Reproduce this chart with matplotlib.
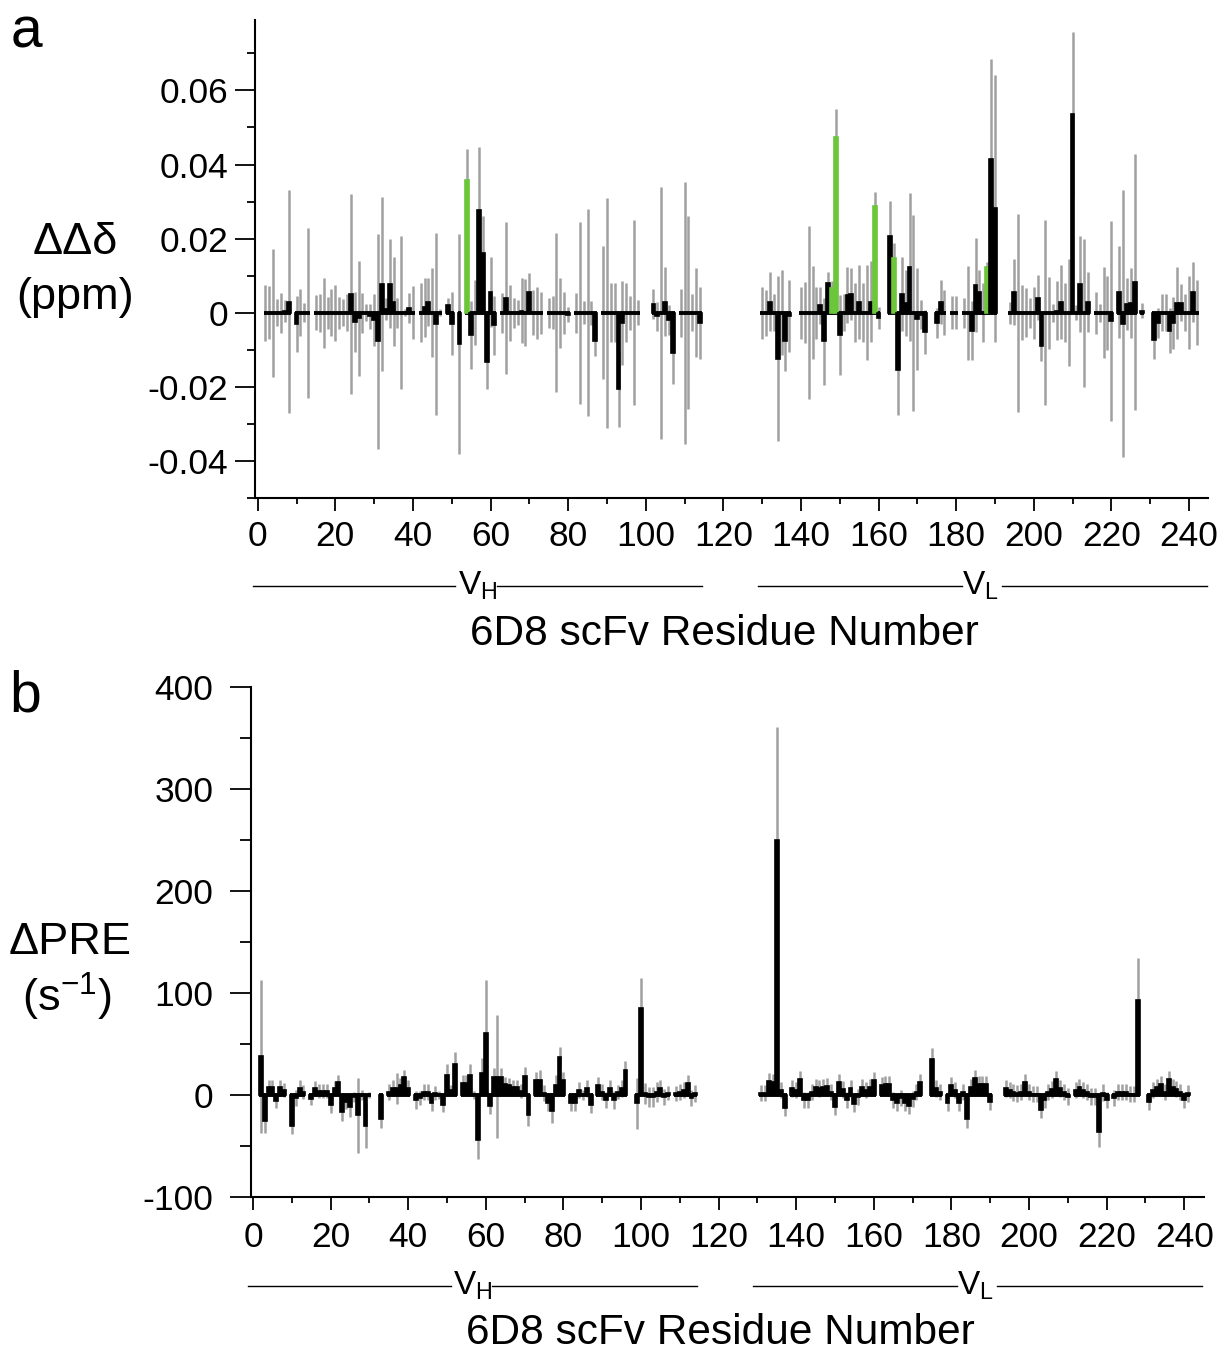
import numpy as np
import matplotlib
matplotlib.use('Agg')
import matplotlib.pyplot as plt
import matplotlib.transforms as mtransforms
from matplotlib.ticker import FixedLocator

plt.rcParams['font.family'] = ['Liberation Sans', 'DejaVu Sans']
plt.rcParams['mathtext.fontset'] = 'custom'
plt.rcParams['mathtext.rm'] = 'Liberation Sans'
plt.rcParams['mathtext.it'] = 'Liberation Sans:italic'
plt.rcParams['axes.unicode_minus'] = False

# ---------------- Panel a : chemical shift perturbation ----------------
res_a = [2, 3, 4, 5, 6, 7, 8, 10, 11, 12, 13, 15, 16, 17, 18, 19, 20, 21, 22, 23,
         24, 25, 26, 27, 28, 29, 30, 31, 32, 33, 34, 35, 36, 37, 38, 39, 40, 42, 43, 44,
         45, 46, 47, 49, 50, 52, 54, 55, 56, 57, 58, 59, 60, 61, 63, 64, 65, 66, 67, 68,
         69, 70, 71, 72, 73, 75, 76, 77, 78, 79, 80, 82, 83, 84, 85, 86, 87, 89, 90, 91,
         92, 93, 94, 95, 96, 97, 98, 102, 103, 104, 105, 106, 107, 109, 110, 111, 112, 113, 114,
         130, 131, 132, 133, 134, 135, 136, 137, 140, 141, 142, 143, 144, 145, 146, 147, 148, 149,
         150, 151, 152, 153, 154, 155, 156, 157, 158, 159, 160, 163, 164, 165, 166, 167, 168,
         169, 170, 171, 172, 175, 176, 177, 179, 180, 182, 183, 184, 185, 186, 187, 188, 189,
         190, 194, 195, 196, 197, 198, 199, 200, 201, 202, 203, 204, 205, 206, 207, 208, 209,
         210, 211, 212, 213, 214, 216, 217, 218, 219, 220, 222, 223, 224, 225, 226, 228, 231,
         232, 233, 234, 235, 236, 237, 238, 239, 240, 241, 242]
ddelta = [0, 0, 0, 0, 0, 0.0005, 0.003, -0.003, 0, 0, 0, 0, 0, 0, 0, 0, 0, 0, 0, 0,
          0.005, -0.0025, -0.0015, 0, 0, -0.001, -0.002, -0.0077, 0.0078, 0.001, 0.0078, 0.003, 0, 0, 0, 0.0013, 0, 0, 0.0015, 0.003,
          0, -0.003, 0, 0.002, -0.003, -0.0085, 0.0358, -0.006, 0, 0.0278, 0.016, -0.0133, 0.0056, -0.0034, 0, 0.004, 0, 0, 0, 0.0006,
          0, 0.0056, 0, 0, 0, 0, 0, 0, 0, 0, -0.0005, 0, 0, 0, 0, 0, -0.0076, 0, 0, 0,
          0, -0.0205, -0.0028, 0, 0, 0, 0, 0.0024, -0.001, 0, 0.003, -0.002, -0.0108, 0, 0, 0, 0, 0, -0.0028,
          0, 0, 0.003, 0, -0.0124, 0, -0.0077, -0.001, 0, 0, 0, 0, 0, 0.002, -0.0077, 0.008, 0.0066, 0.0473,
          -0.0059, 0, 0.0047, 0.005, 0, 0.003, 0, 0, 0.003, 0.0287, -0.0015, 0.0208, 0.0147, -0.0155, 0.005, 0.0026, 0.0123,
          0, -0.0016, -0.0005, -0.0052, -0.0027, 0.0029, 0, 0, 0, 0, 0, -0.0048, 0.0076, 0.0056, 0, 0.0123, 0.0416,
          0.0282, 0, 0.0056, 0, 0, 0, 0, 0, 0.0041, -0.009, 0, 0, 0, 0.0006, 0.0029, 0, 0,
          0.0535, 0, 0.0078, 0, 0.0029, 0, 0, 0, 0, -0.0023, 0.0056, -0.003, 0.0024, 0.0027, 0.0083, 0.0005, -0.0074,
          -0.0027, 0, 0, -0.0048, -0.0027, 0.0027, 0.0027, 0, 0, 0.0056, 0]
ddelta_err = [0.0076, 0.0072, 0.0173, 0.0036, 0.0054, 0.003, 0.030, 0.0075, 0.0063, 0.0026, 0.023, 0.0047, 0.0051, 0.0095, 0.0043, 0.0063, 0.0076, 0.0043, 0.0036, 0.005,
              0.027, 0.008, 0.0155, 0.0054, 0.0023, 0.0034, 0.007, 0.029, 0.0235, 0.003, 0.012, 0.012, 0.004, 0.0206, 0.001, 0.004, 0.0072, 0.008, 0.008, 0.0065,
              0.012, 0.0245, 0.001, 0.002, 0.0085, 0.0297, 0.0085, 0.0093, 0.0087, 0.017, 0.010, 0.0072, 0.0095, 0.008, 0.0054, 0.0206, 0.0076, 0.004, 0.0034, 0.0088,
              0.009, 0.005, 0.006, 0.007, 0.0057, 0.004, 0.0044, 0.0215, 0.0094, 0.0057, 0.002, 0.0054, 0.0245, 0.0031, 0.028, 0.0033, 0.004, 0.018, 0.031, 0.008,
              0.008, 0.0103, 0.0113, 0.008, 0.0046, 0.025, 0.0034, 0.004, 0.004, 0.034, 0.0094, 0.004, 0.0085, 0.0065, 0.0354, 0.026, 0.005, 0.012, 0.0097,
              0.007, 0.0062, 0.008, 0.005, 0.0223, 0.0115, 0.008, 0.0097, 0.007, 0.0083, 0.0234, 0.0125, 0.007, 0.005, 0.0118, 0.003, 0.002, 0.0078,
              0.0108, 0.005, 0.0076, 0.007, 0.008, 0.010, 0.008, 0.0128, 0.011, 0.0038, 0.003, 0.0094, 0.004, 0.012, 0.010, 0.009, 0.020,
              0.0265, 0.0138, 0.004, 0.006, 0.004, 0.006, 0.006, 0.0044, 0.0044, 0.004, 0.0127, 0.008, 0.0127, 0.006, 0.008, 0.0014, 0.027,
              0.036, 0.003, 0.009, 0.0267, 0.0074, 0.0066, 0.004, 0.007, 0.006, 0.004, 0.025, 0.0097, 0.0024, 0.008, 0.010, 0.008, 0.0144,
              0.0222, 0.002, 0.013, 0.020, 0.008, 0.0057, 0.0024, 0.0123, 0.010, 0.027, 0.0125, 0.036, 0.007, 0.0095, 0.0346, 0.002, 0.005,
              0.004, 0.005, 0.005, 0.006, 0.007, 0.0097, 0.005, 0.005, 0.0098, 0.008, 0.0088]
green_res_a = [54, 148, 149, 159, 164, 188]

# ---------------- Panel b : PRE ----------------
res_b = [2, 3, 4, 5, 6, 7, 8, 10, 11, 12, 13, 15, 16, 17, 18, 19, 20, 21, 22, 23,
         24, 25, 26, 27, 28, 29, 30, 33, 35, 36, 37, 38, 39, 40, 42, 43, 44, 45, 46, 47,
         48, 49, 50, 51, 52, 54, 55, 56, 57, 58, 59, 60, 61, 62, 63, 64, 65, 66, 67, 68,
         69, 70, 71, 73, 74, 75, 76, 77, 78, 79, 80, 82, 83, 84, 85, 86, 87, 89, 90, 91,
         92, 93, 94, 95, 96, 99, 100, 101, 102, 103, 104, 105, 106, 107, 109, 110, 111, 112, 113, 114,
         131, 132, 133, 134, 135, 136, 137, 139, 140, 141, 142, 143, 144, 145, 146, 147, 148, 149,
         150, 151, 152, 153, 154, 155, 156, 157, 158, 159, 160, 162, 163, 164, 165, 166, 167, 168,
         169, 170, 171, 172, 175, 176, 177, 179, 180, 181, 182, 183, 184, 185, 186, 187, 188, 189,
         190, 194, 195, 196, 197, 198, 199, 200, 201, 202, 203, 204, 205, 206, 207, 208, 209, 210,
         212, 213, 214, 215, 216, 217, 218, 219, 220, 222, 223, 224, 225, 226, 227, 228, 231, 232,
         233, 234, 235, 236, 237, 238, 239, 240, 241]
dpre = [38, -25, 7.5, 7.5, -5.6, 8, 5, -30, -3, 7, 3, -4, 6.5, 4, 4, 4, -10, 6.5, 13, -17,
        -6.5, -12, -2, -20, 0, -30, 0, -24, 3, 7, 6.5, 10, 18, 7, -5, -3, 3, 3, -8, 2,
        0, -10, 20, 5, 30, 12, 12, 20, 0, -44, 22, 61, -11, 18, 18, 18, 11, 10, 8, 8,
        4, 19, -20, 15, 15, 2, -8, -16, 10, 37, 15, -8, -8, 5, 0, 6.5, -10, 10, 3, -5,
        7, -5, 3, 6.5, 24.5, -8, 85, 1.6, -2, -2, 3, 6.5, -2, 2, 1.5, 3, 5, 12, -3, 1.5,
        2, 2, 14, 13, 250, 5, -13, 6.5, 5, 16, -5, -5, 3, 8, 6.5, 8, 9, 3,
        -12, 13, 5.5, -5, 6.5, -9, -2, 7.5, 5, 7.5, 14.7, 10, 11, 11, -5, -8, -3, -8,
        -11, -4, 3, 13, 35, 6.5, 3, -8, 10, 5, -8, 3, -24, 8, 17, 11, 11, 11,
        -6.5, 6.5, 5, 2.6, 1.6, 3, 13, 3, 1, 1, -15, -5, 3, 5.5, 16, 6.5, 3, -1.6,
        5, 8, 5, 3, -1.6, -1.6, -36, 2.3, -5, -3, 3, 3, 3, 1, 1, 93, -6.5, 5,
        8, 11, 3, 16, 8, 6, 3, -5, 1.6]
dpre_err = [75, 12, 7, 7, 7, 7, 7, 8, 8, 8, 7, 6, 7, 7, 7, 7, 8, 7, 7, 8,
            7, 10, 5, 37, 5, 22, 3, 8, 8, 8, 15, 7, 7, 8, 9, 7, 8, 8, 8, 7,
            4, 7, 10, 5, 12, 8, 8, 10, 4, 19, 14, 52, 8, 8, 60, 8, 7, 7, 7, 7,
            7, 8, 10, 8, 10, 8, 8, 11, 10, 10, 8, 8, 8, 8, 5, 8, 8, 8, 8, 8,
            8, 9, 7, 8, 9, 25, 30, 10, 10, 10, 10, 8, 8, 7, 7, 8, 8, 8, 8, 8,
            8, 8, 8, 8, 111, 8, 8, 8, 8, 8, 8, 8, 8, 8, 8, 8, 8, 8,
            8, 8, 8, 8, 8, 8, 8, 8, 8, 8, 8, 8, 8, 8, 8, 8, 8, 8,
            8, 8, 8, 8, 11, 8, 8, 8, 8, 8, 8, 8, 8, 8, 8, 8, 8, 8,
            8, 8, 8, 8, 8, 8, 8, 8, 8, 8, 8, 8, 8, 8, 8, 8, 8, 8,
            8, 8, 8, 8, 8, 8, 15, 8, 8, 8, 8, 8, 8, 8, 8, 41, 8, 8,
            8, 8, 8, 8, 8, 8, 8, 8, 8]

xticks = list(range(0, 241, 20))
yticks_a = [-0.04, -0.02, 0, 0.02, 0.04, 0.06]
yticklabels_a = ['-0.04', '-0.02', '0', '0.02', '0.04', '0.06']
yticks_b = [-100, 0, 100, 200, 300, 400]
yticklabels_b = ['-100', '0', '100', '200', '300', '400']

BLACK = '#000000'
GREEN = '#6cc63c'
GRAY = '#a0a0a0'
TICK_FS = 25.5
LAB_FS = 30.5
YLAB_FS = 32.5

W, H = 1224, 1354
fig = plt.figure(figsize=(W / 100, H / 100), dpi=100)


def px_axes(left, top, right, bottom):
    return fig.add_axes([left / W, 1 - bottom / H, (right - left) / W, (bottom - top) / H])


ax_a = px_axes(255, 20, 1208.3, 498)
ax_b = px_axes(250.7, 687, 1203.6, 1197)


def draw(ax, res, vals, errs, green):
    res = np.asarray(res, float)
    vals = np.asarray(vals, float)
    errs = np.asarray(errs, float)
    cols = [GREEN if r in green else BLACK for r in res]
    ax.errorbar(res, vals, yerr=errs, fmt='none', ecolor=GRAY, elinewidth=1.8,
                capsize=0, zorder=1)
    ax.hlines(np.zeros_like(res), res - 0.5, res + 0.5, color=BLACK, lw=2.8,
              zorder=2, capstyle='butt')
    ax.bar(res, vals, width=1.0, color=cols, edgecolor=cols, linewidth=1.2, zorder=3)


draw(ax_a, res_a, ddelta, ddelta_err, green_res_a)
draw(ax_b, res_b, dpre, dpre_err, [])


def style(ax, ylim, yticks, yticklabels, yminor, ymaj_len, ymin_len, ypad, xpad):
    for s in ('top', 'right'):
        ax.spines[s].set_visible(False)
    for s in ('left', 'bottom'):
        ax.spines[s].set_linewidth(1.5)
    ax.set_ylim(*ylim)
    ax.set_yticks(yticks)
    ax.set_yticklabels(yticklabels)
    ax.yaxis.set_minor_locator(FixedLocator(yminor))
    ax.set_xticks(xticks)
    ax.set_xticklabels([str(t) for t in xticks])
    ax.xaxis.set_minor_locator(FixedLocator(list(range(10, 240, 20))))
    ax.tick_params(axis='y', which='major', direction='out', length=ymaj_len, width=1.3,
                   labelsize=TICK_FS, pad=ypad)
    ax.tick_params(axis='y', which='minor', direction='out', length=ymin_len, width=1.3)
    ax.tick_params(axis='x', which='major', direction='out', length=9.5, width=1.3,
                   labelsize=TICK_FS, pad=xpad)
    ax.tick_params(axis='x', which='minor', direction='out', length=4.0, width=1.3)


ax_a.set_xlim(-0.7, 245)
ax_b.set_xlim(-0.6, 245)
style(ax_a, (-0.05, 0.079), yticks_a, yticklabels_a,
      [-0.05, -0.03, -0.01, 0.01, 0.03, 0.05, 0.07], 14.5, 6.0, 5, 6)
style(ax_b, (-100, 400), yticks_b, yticklabels_b,
      [-50, 50, 150, 250, 350], 15.0, 8.0, 12, 8)


def domain_marks(ax, yf):
    tr = mtransforms.blended_transform_factory(ax.transData, ax.transAxes)
    for x0, x1 in [(-1.3, 50.9), (61.6, 114.4), (128.9, 181.4), (191.8, 244.6)]:
        ax.plot([x0, x1], [yf, yf], color=BLACK, lw=1.0, transform=tr, clip_on=False)
    ax.text(56.6, yf, r'$\mathrm{V}_\mathrm{H}$', transform=tr, ha='center', va='center',
            fontsize=24)
    ax.text(186.2, yf, r'$\mathrm{V}_\mathrm{L}$', transform=tr, ha='center', va='center',
            fontsize=24)


domain_marks(ax_a, -0.1835)
domain_marks(ax_b, -0.1745)

tr_a = mtransforms.blended_transform_factory(ax_a.transData, ax_a.transAxes)
ax_a.text(120.4, -0.2845, '6D8 scFv Residue Number', transform=tr_a, ha='center',
          va='center', fontsize=LAB_FS)
tr_b = mtransforms.blended_transform_factory(ax_b.transData, ax_b.transAxes)
ax_b.text(120.4, -0.2667, '6D8 scFv Residue Number', transform=tr_b, ha='center',
          va='center', fontsize=LAB_FS)


def ftext(x, y, s, **kw):
    fig.text(x / W, 1 - y / H, s, ha='center', va='center', **kw)


ftext(75, 243, 'ΔΔδ', fontsize=YLAB_FS)
ftext(75, 298, '(ppm)', fontsize=YLAB_FS)
ftext(70, 943, 'ΔPRE', fontsize=YLAB_FS)
ftext(67, 997, r'(s$^{\mathrm{-1}}$)', fontsize=YLAB_FS)
ftext(26, 33, 'a', fontsize=41)
ftext(25, 696, 'b', fontsize=41)

fig.savefig('out.png', dpi=100)
